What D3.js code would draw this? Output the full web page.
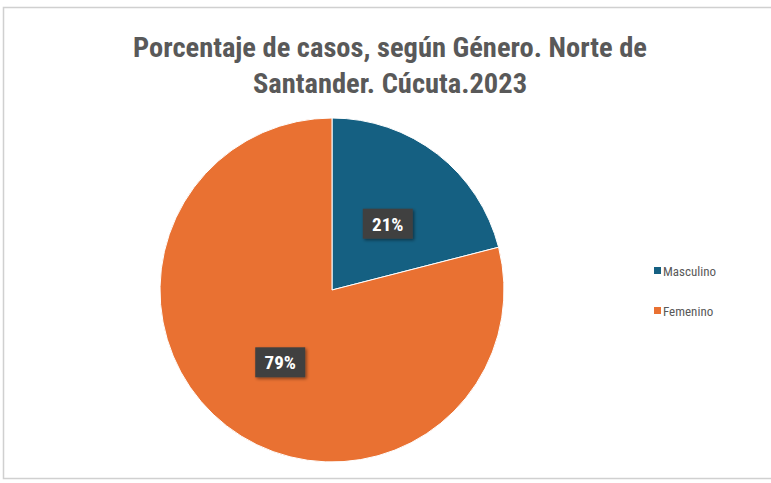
<!DOCTYPE html>
<html>
<head>
<meta charset="utf-8">
<script src="https://cdn.jsdelivr.net/npm/d3@7"></script>
<style>
html,body{margin:0;padding:0;background:#fff;}
svg{display:block;}
</style>
</head>
<body>
<svg id="chart" width="771" height="483"></svg>
<script>
const categories = ["Masculino", "Femenino"];
const values = [21, 79];
const labels = ["21%", "79%"];
const colors = ["#156082", "#E97132"];
const titleLines = ["Porcentaje de casos, según Género. Norte de", "Santander. Cúcuta.2023"];

const svg = d3.select("#chart");
const W = 771, H = 483;
const font = "'Liberation Sans Narrow', 'Roboto Condensed', 'DejaVu Sans Condensed', sans-serif";

// frame
svg.append("rect").attr("x", 3.5).attr("y", 7.5).attr("width", W + 10).attr("height", 471)
  .attr("fill", "#fff").attr("stroke", "#d0d0d0").attr("stroke-width", 1.5);

// defs: shadow
const defs = svg.append("defs");
const f = defs.append("filter").attr("id", "sh").attr("x", "-30%").attr("y", "-30%").attr("width", "160%").attr("height", "160%");
f.append("feDropShadow").attr("dx", 1.5).attr("dy", 1.5).attr("stdDeviation", 1.5).attr("flood-color", "#000").attr("flood-opacity", 0.45);

// title
const title = svg.append("text").attr("text-anchor", "middle")
  .style("font-family", font).style("font-weight", "bold").style("font-size", "28.5px").attr("fill", "#595959");
titleLines.forEach((t, i) => {
  title.append("tspan").attr("x", 390).attr("y", 57 + i * 36).text(t);
});

// pie
const cx = 332, cy = 290, R = 172;
const pie = d3.pie().sort(null).value(d => d)(values);
const arc = d3.arc().innerRadius(0).outerRadius(R);
const labelArc = d3.arc().innerRadius(R * 0.51).outerRadius(R * 0.51);
const g = svg.append("g").attr("transform", `translate(${cx},${cy})`);
g.selectAll("path.slice").data(pie).join("path").attr("class", "slice")
  .attr("d", arc).attr("fill", (d, i) => colors[i]).attr("stroke", "#fff").attr("stroke-width", 1);

// data labels
const lg = g.selectAll("g.lab").data(pie).join("g").attr("class", "lab")
  .attr("transform", d => { const c = labelArc.centroid(d); return `translate(${c[0] + 2},${c[1] + 3})`; });
lg.append("rect").attr("x", -25).attr("y", -15).attr("width", 50).attr("height", 30)
  .attr("fill", "#404040").attr("filter", "url(#sh)");
lg.append("text").attr("text-anchor", "middle").attr("dy", "0.36em")
  .style("font-family", font).style("font-weight", "bold").style("font-size", "19px")
  .attr("fill", "#fff").text((d, i) => labels[i]);

// legend
const leg = svg.append("g").attr("transform", "translate(654,271)");
categories.forEach((c, i) => {
  const row = leg.append("g").attr("transform", `translate(0,${i * 40})`);
  row.append("rect").attr("x", 0).attr("y", -4).attr("width", 7).attr("height", 7).attr("fill", colors[i]);
  row.append("text").attr("x", 9).attr("y", 0).attr("dy", "0.35em")
    .style("font-family", font).style("font-size", "13px").attr("fill", "#595959").text(c);
});
</script>
</body>
</html>
